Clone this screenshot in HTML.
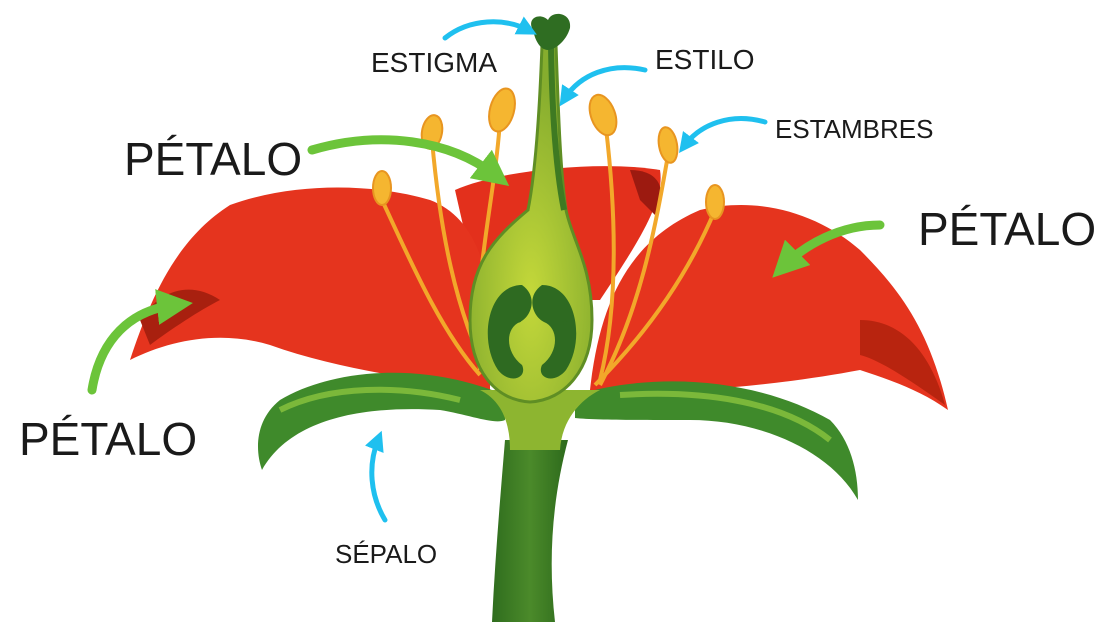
<!DOCTYPE html>
<html><head><meta charset="utf-8">
<style>
html,body{margin:0;padding:0;background:#fff;}
svg{display:block;}
text{font-family:"Liberation Sans",sans-serif;fill:#1a1a1a;}
</style></head>
<body>
<svg width="1104" height="622" viewBox="0 0 1104 622" xmlns="http://www.w3.org/2000/svg">
<defs>
<marker id="ab" markerWidth="4" markerHeight="4" refX="2" refY="2" orient="auto" markerUnits="strokeWidth"><path d="M0,0 L4,2 L0,4 Z" fill="#1fc0ef"/></marker>
<marker id="ag" markerWidth="4" markerHeight="4" refX="2" refY="2" orient="auto" markerUnits="strokeWidth"><path d="M0,0 L4,2 L0,4 Z" fill="#6cc43a"/></marker>
<linearGradient id="stem" x1="0" x2="1"><stop offset="0" stop-color="#2f6d1e"/><stop offset=".5" stop-color="#4b8a2a"/><stop offset="1" stop-color="#2d6a1c"/></linearGradient>
<radialGradient id="ov" cx=".5" cy=".7" r=".6"><stop offset="0" stop-color="#c4d83a"/><stop offset="1" stop-color="#86ad2e"/></radialGradient>
</defs>
<!-- stem -->
<path d="M505,440 C500,500 495,560 492,622 L555,622 C548,560 552,500 568,440 Z" fill="url(#stem)"/>
<!-- back petal -->
<path d="M455,190 C500,170 600,160 660,170 C665,200 640,240 600,300 L480,300 Z" fill="#e3301c"/>
<path d="M630,170 C660,170 668,190 655,215 L640,200 Z" fill="#9c1a10"/>
<!-- left petal -->
<path d="M130,360 C150,300 175,240 230,205 C300,180 380,185 430,200 C470,215 490,260 490,320 L490,390 C420,380 340,370 270,345 C220,330 170,340 130,360 Z" fill="#e5341e"/>
<path d="M140,320 C160,290 190,280 220,300 C200,310 170,330 150,345 Z" fill="#a8200f"/>
<!-- right petal -->
<path d="M590,390 C600,300 630,240 700,210 C760,195 820,215 860,250 C900,290 930,330 948,410 C920,390 890,380 860,370 C780,385 680,395 590,390 Z" fill="#e5341e"/>
<path d="M860,320 C900,320 930,350 945,405 C910,380 880,360 860,355 Z" fill="#b8240f"/>
<!-- stamen filaments -->
<g stroke="#f2a82a" stroke-width="4" fill="none">
<path d="M382,200 C410,260 440,330 480,375"/>
<path d="M432,140 C440,230 455,310 490,380"/>
<path d="M500,120 C495,200 470,290 480,370"/>
<path d="M605,120 C615,200 620,300 600,380"/>
<path d="M668,155 C655,230 640,310 600,385"/>
<path d="M715,210 C690,270 650,330 595,385"/>
</g>
<g fill="#f5b630" stroke="#e89520" stroke-width="2">
<ellipse cx="382" cy="188" rx="9" ry="17"/>
<ellipse cx="432" cy="132" rx="10" ry="17" transform="rotate(10 432 132)"/>
<ellipse cx="502" cy="110" rx="12" ry="22" transform="rotate(15 502 110)"/>
<ellipse cx="603" cy="115" rx="12" ry="21" transform="rotate(-20 603 115)"/>
<ellipse cx="668" cy="145" rx="9" ry="18" transform="rotate(-10 668 145)"/>
<ellipse cx="715" cy="202" rx="9" ry="17"/>
</g>
<!-- sepals -->
<path d="M505,395 C420,360 330,370 280,400 C255,420 255,450 262,470 C290,420 360,405 440,410 C470,415 495,425 505,420 Z" fill="#3f8a2b"/>
<path d="M575,395 C660,370 760,380 830,420 C850,440 858,470 858,500 C830,450 760,420 690,420 C630,420 595,420 575,418 Z" fill="#3f8a2b"/>
<path d="M280,410 C330,385 400,385 460,400" stroke="#7bb83a" stroke-width="6" fill="none"/>
<path d="M620,395 C700,390 780,400 830,440" stroke="#7bb83a" stroke-width="6" fill="none"/>
<!-- receptacle -->
<path d="M480,390 C500,400 510,420 510,450 L560,450 C562,420 580,400 600,390 Z" fill="#8db530"/>
<!-- ovary + style -->
<path d="M542,45 L556,45 C558,100 560,170 566,210 C572,240 592,265 592,320 C592,370 565,400 530,402 C495,400 470,370 470,320 C470,265 492,240 528,210 C536,170 540,100 542,45 Z" fill="url(#ov)" stroke="#5f8e24" stroke-width="3"/>
<path d="M551,45 C552,110 556,170 564,210" stroke="#3e7a22" stroke-width="6" fill="none"/>
<path d="M533,30 C526,18 540,12 548,20 C552,10 572,12 570,28 C566,42 554,50 548,50 C540,50 535,40 533,30 Z" fill="#2f6d22"/>
<!-- chambers -->
<path d="M522,285 C488,285 478,340 498,370 C510,385 528,378 522,365 C505,352 505,328 520,322 C532,316 538,296 522,285 Z" fill="#2e6a21"/>
<path d="M542,285 C576,285 586,340 566,370 C554,385 536,378 542,365 C559,352 559,328 544,322 C532,316 526,296 542,285 Z" fill="#2e6a21"/>
<circle cx="519" cy="320" r="2.5" fill="#2e6a21"/><circle cx="565" cy="323" r="2.5" fill="#2e6a21"/>
<!-- blue arrows -->
<g stroke="#1fc0ef" stroke-width="5" fill="none" stroke-linecap="round">
<path d="M445,38 C470,18 505,18 528,30" marker-end="url(#ab)"/>
<path d="M645,70 C610,62 580,75 565,98" marker-end="url(#ab)"/>
<path d="M765,122 C730,112 700,125 685,145" marker-end="url(#ab)"/>
<path d="M385,520 C370,495 368,465 378,440" marker-end="url(#ab)"/>
</g>
<!-- green arrows -->
<g stroke="#6cc43a" stroke-width="9" fill="none" stroke-linecap="round">
<path d="M312,150 C380,130 450,140 495,175" marker-end="url(#ag)"/>
<path d="M880,225 C840,225 805,245 785,265" marker-end="url(#ag)"/>
<path d="M92,390 C100,340 130,310 175,305" marker-end="url(#ag)"/>
</g>
<!-- labels -->
<text x="371" y="72" font-size="28">ESTIGMA</text>
<text x="655" y="69" font-size="28">ESTILO</text>
<text x="775" y="138" font-size="26">ESTAMBRES</text>
<text x="124" y="175" font-size="46">PÉTALO</text>
<text x="918" y="245" font-size="46">PÉTALO</text>
<text x="19" y="455" font-size="46">PÉTALO</text>
<text x="335" y="563" font-size="26">SÉPALO</text>
</svg>
</body></html>
